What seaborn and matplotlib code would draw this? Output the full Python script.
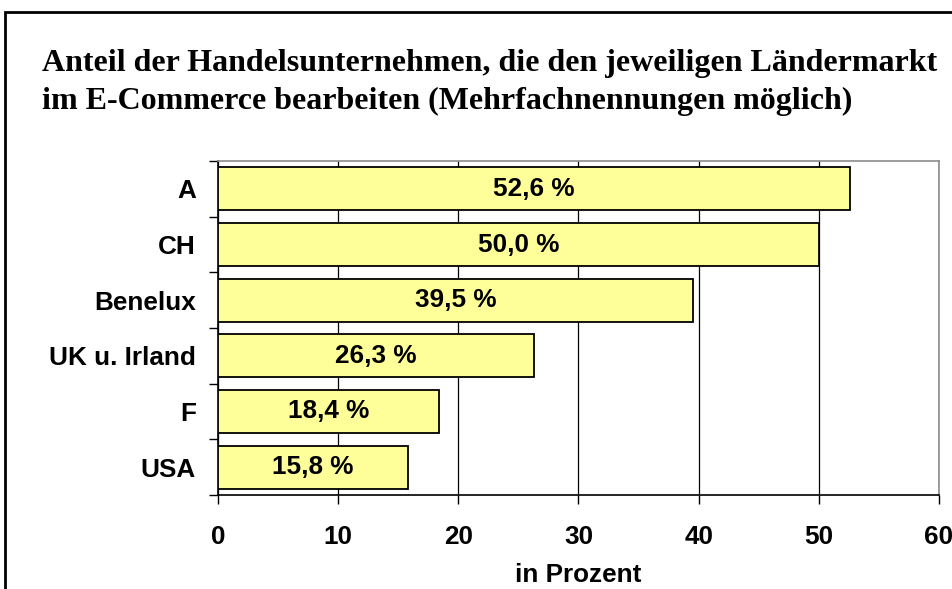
import matplotlib
matplotlib.use("Agg")
import matplotlib.pyplot as plt
import seaborn as sns
import pandas as pd
from matplotlib.patches import Rectangle

laender = ["A", "CH", "Benelux", "UK u. Irland", "F", "USA"]
anteil = [52.6, 50.0, 39.5, 26.3, 18.4, 15.8]
x_ticks = [0, 10, 20, 30, 40, 50, 60]

titel = ("Anteil der Handelsunternehmen, die den jeweiligen Ländermarkt\n"
         "im E-Commerce bearbeiten (Mehrfachnennungen möglich)")

df = pd.DataFrame(dict(land=laender, anteil=anteil))

sns.set_style("white")
plt.rcParams['font.family'] = ['Liberation Sans', 'DejaVu Sans']
plt.rcParams['text.color'] = 'black'
plt.rcParams['axes.labelcolor'] = 'black'
plt.rcParams['xtick.color'] = 'black'
plt.rcParams['ytick.color'] = 'black'

fs = 18.8

fig = plt.figure(figsize=(9.53, 5.89), dpi=100)
ax = fig.add_axes([218/953, 1 - 495/589, (939 - 218)/953, (495 - 161)/589])

sns.barplot(ax=ax, data=df, x="anteil", y="land", orient="h", color="#FFFF99",
            saturation=1, edgecolor="black", linewidth=1.3, width=0.77, zorder=3)

ax.set_xlim(0, 60)
ax.set_ylim(5.5, -0.5)
ax.grid(axis="x", color="black", linewidth=0.9, zorder=0)
ax.grid(axis="y", visible=False)

# Zahlen in die Balken
for i, v in enumerate(anteil):
    ax.text(v / 2, i, ("%.1f %%" % v).replace(".", ","), ha="center", va="center",
            fontsize=fs, fontweight="bold", zorder=4)

# x-Achse
ax.set_xticks(x_ticks)
ax.set_xticklabels([str(t) for t in x_ticks], fontsize=fs, fontweight="bold")
ax.tick_params(axis="x", direction="out", length=6.5, width=1, pad=15, bottom=True)
ax.set_xlabel("in Prozent", fontsize=fs, fontweight="bold", labelpad=10)
ax.set_ylabel("")

# y-Achse: Striche zwischen den Kategorien, Beschriftung in der Mitte
ax.set_yticks([i - 0.5 for i in range(len(laender) + 1)])
ax.set_yticklabels([])
ax.set_yticks(range(len(laender)), minor=True)
ax.set_yticklabels(laender, minor=True, fontsize=fs, fontweight="bold")
ax.tick_params(axis="y", which="major", direction="out", length=6.5, width=1, left=True)
ax.tick_params(axis="y", which="minor", length=0, pad=16)

for s in ["left", "bottom"]:
    ax.spines[s].set_color("black")
    ax.spines[s].set_linewidth(1.2)
for s in ["top", "right"]:
    ax.spines[s].set_color("#8c8c8c")
    ax.spines[s].set_linewidth(1.2)

fig.text(42/953, 1 - 49/589, titel, ha="left", va="top", fontsize=23,
         fontweight="bold", family=["Liberation Serif", "DejaVu Serif"], linespacing=1.42)

# Rahmen um die Grafik
fig.patches.append(Rectangle((5/953, -0.1), 1.2, 1 - 12/589 + 0.1, transform=fig.transFigure,
                             fill=False, edgecolor="black", linewidth=2))

fig.savefig("out.png", dpi=100)
